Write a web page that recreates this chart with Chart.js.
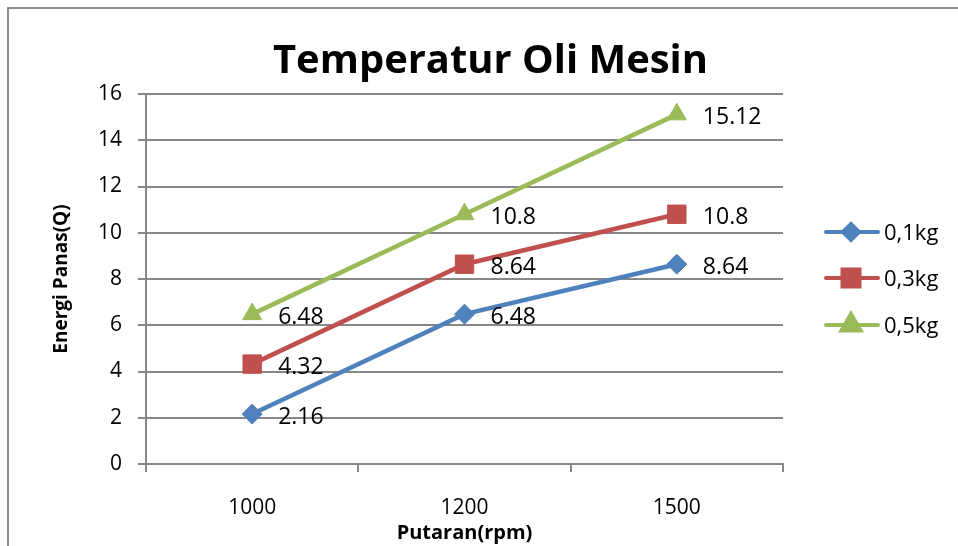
<!DOCTYPE html>
<html>
<head>
<meta charset="utf-8">
<script src="https://cdn.jsdelivr.net/npm/chart.js@4/dist/chart.umd.min.js"></script>
<style>
html,body{margin:0;padding:0;background:#fff;}
#wrap{width:958px;height:546px;}
</style>
</head>
<body>
<div id="wrap"><canvas id="c" width="958" height="546"></canvas></div>
<script>
const categories = ['1000', '1200', '1500'];
const seriesNames = ['0,1kg', '0,3kg', '0,5kg'];
const s01 = [2.16, 6.48, 8.64];
const s03 = [4.32, 8.64, 10.8];
const s05 = [6.48, 10.8, 15.12];
const yTicks = [0, 2, 4, 6, 8, 10, 12, 14, 16];
const labels01 = ['2.16', '6.48', '8.64'];
const labels03 = ['4.32', '8.64', '10.8'];
const labels05 = ['6.48', '10.8', '15.12'];
const chartTitle = 'Temperatur Oli Mesin';
const xTitle = 'Putaran(rpm)';
const yTitle = 'Energi Panas(Q)';

const FONT = '"Open Sans", Lato, sans-serif';
const GRID = '#878787';
const colors = ['#4F81BD', '#C0504D', '#9BBB59'];
const styles = ['rectRot', 'rect', 'triangle'];
const radii = [10, 13, 11];
const legendRadii = [8, 12, 11];

const frame = {
  id: 'frame',
  beforeDraw(chart) {
    const ctx = chart.ctx;
    ctx.save();
    ctx.fillStyle = '#fff';
    ctx.fillRect(0, 0, chart.width, chart.height);
    ctx.strokeStyle = '#8c8c8c';
    ctx.lineWidth = 2;
    ctx.beginPath();
    ctx.moveTo(8, chart.height);
    ctx.lineTo(8, 8);
    ctx.lineTo(chart.width, 8);
    ctx.stroke();
    ctx.restore();
  },
  afterDraw(chart) {
    const ctx = chart.ctx;
    ctx.save();
    ctx.fillStyle = '#000';
    ctx.font = 'bold 39px ' + FONT;
    ctx.textAlign = 'center';
    ctx.textBaseline = 'alphabetic';
    const w = ctx.measureText(chartTitle).width;
    const sx = 435 / w;
    ctx.translate(490.5, 73);
    ctx.scale(sx, 1);
    ctx.fillText(chartTitle, 0, 0);
    ctx.restore();
    ctx.save();
    const ys = [232, 278, 325];
    chart.data.datasets.forEach((ds, i) => {
      const y = ys[i];
      ctx.strokeStyle = ds.borderColor;
      ctx.lineWidth = 4;
      ctx.lineCap = 'round';
      ctx.beginPath();
      ctx.moveTo(826, y);
      ctx.lineTo(878, y);
      ctx.stroke();
      ctx.fillStyle = ds.backgroundColor;
      ctx.strokeStyle = ds.backgroundColor;
      Chart.helpers.drawPoint(ctx, {pointStyle: ds.pointStyle, radius: legendRadii[i], borderWidth: 1, rotation: 0}, 851, y);
      ctx.fillStyle = '#000';
      ctx.font = '22px ' + FONT;
      ctx.textAlign = 'left';
      ctx.textBaseline = 'alphabetic';
      ctx.fillText(ds.label, 884, y + 8);
    });
    ctx.restore();
  },
  afterDatasetsDraw(chart) {
    const ctx = chart.ctx;
    ctx.save();
    ctx.fillStyle = '#000';
    ctx.font = '23px ' + FONT;
    ctx.textAlign = 'left';
    ctx.textBaseline = 'alphabetic';
    chart.data.datasets.forEach((ds, i) => {
      const meta = chart.getDatasetMeta(i);
      meta.data.forEach((pt, j) => {
        ctx.fillText(ds.valueLabels[j], pt.x + 26, pt.y + 10);
      });
    });
    ctx.restore();
  }
};

function mk(i, data, lbls) {
  return {
    label: seriesNames[i],
    data: data,
    valueLabels: lbls,
    borderColor: colors[i],
    backgroundColor: colors[i],
    pointBackgroundColor: colors[i],
    pointBorderColor: colors[i],
    borderWidth: 4.5,
    pointStyle: styles[i],
    pointRadius: radii[i],
    pointHoverRadius: radii[i],
    pointBorderWidth: 1,
    tension: 0,
    fill: false
  };
}

new Chart(document.getElementById('c'), {
  type: 'line',
  data: {
    labels: categories,
    datasets: [mk(0, s01, labels01), mk(1, s03, labels03), mk(2, s05, labels05)]
  },
  options: {
    responsive: false,
    animation: false,
    devicePixelRatio: 1,
    layout: {padding: {top: 94, right: 175, left: 0, bottom: 0}},
    plugins: {legend: {display: false}, title: {display: false}, tooltip: {enabled: false}},
    scales: {
      x: {
        type: 'category',
        offset: true,
        afterFit(scale) { scale.height = 82; },
        grid: {offset: true, drawOnChartArea: false, drawTicks: true, tickLength: 8, color: GRID, lineWidth: 2},
        border: {display: true, color: GRID, width: 2},
        ticks: {color: '#000', font: {family: FONT, size: 21}, padding: 23},
        title: {display: true, text: xTitle, color: '#000', font: {family: FONT, size: 20, weight: 'bold'}, padding: {top: 0, bottom: 1}}
      },
      y: {
        min: 0,
        max: 16,
        afterFit(scale) { scale.width = 146; },
        afterBuildTicks(scale) { scale.ticks = yTicks.map(v => ({value: v})); },
        grid: {color: GRID, lineWidth: 2, tickLength: 8, drawTicks: true},
        border: {display: true, color: GRID, width: 2},
        ticks: {color: '#000', font: {family: FONT, size: 21}, padding: 16},
        title: {display: true, text: yTitle, color: '#000', font: {family: FONT, size: 19, weight: 'bold'}, padding: {top: 50, bottom: 0}}
      }
    }
  },
  plugins: [frame]
});
</script>
</body>
</html>
